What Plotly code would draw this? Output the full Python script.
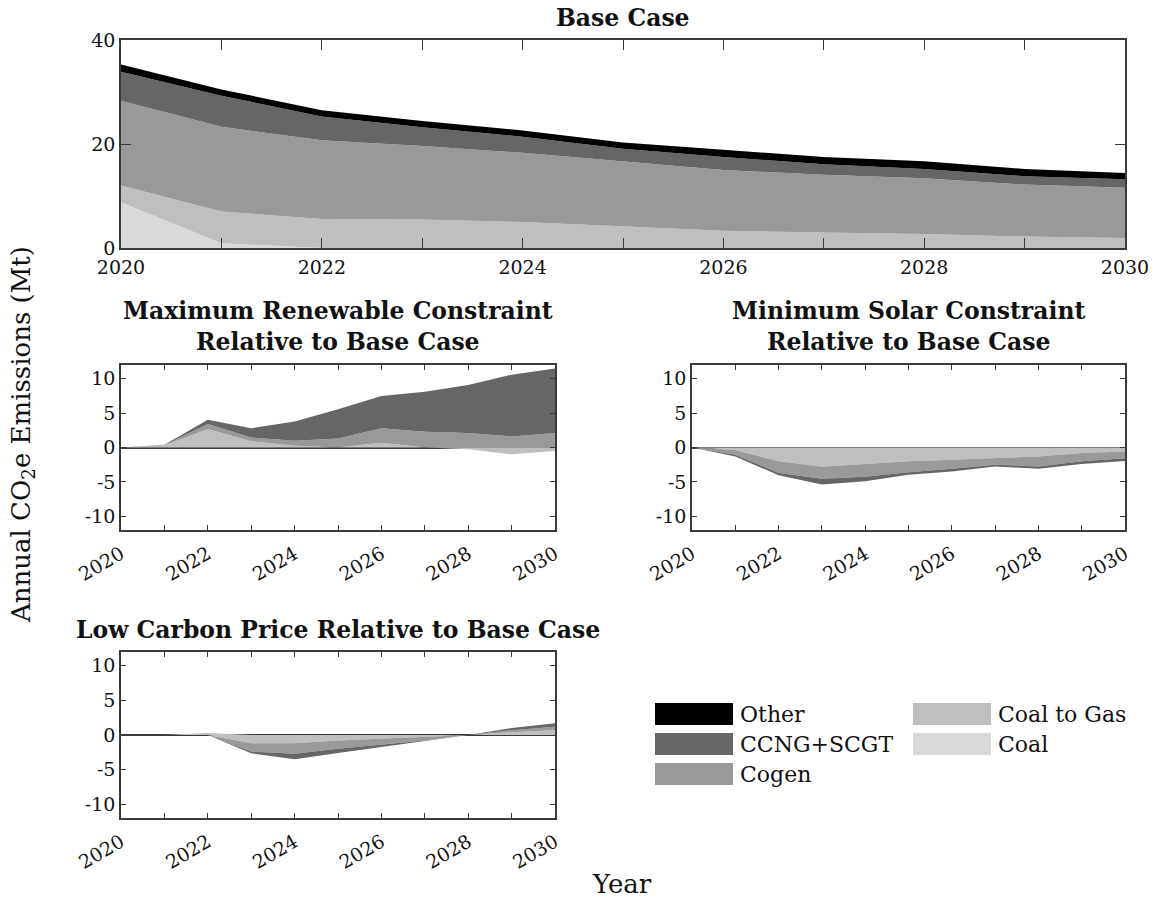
import plotly.graph_objects as go

# ---------------- data ----------------
years = [2020, 2021, 2022, 2023, 2024, 2025, 2026, 2027, 2028, 2029, 2030]
series_names = ["Coal", "Coal to Gas", "Cogen", "CCNG+SCGT", "Other"]
series_colors = ["#d9d9d9", "#bfbfbf", "#999999", "#666666", "#000000"]

# Base case (Mt CO2e)
base_coal = [8.8, 0.9, 0.0, 0, 0, 0, 0, 0, 0, 0, 0]
base_ctg = [3.2, 6.1, 5.6, 5.5, 5.0, 4.1, 3.3, 3.0, 2.7, 2.2, 1.9]
base_cogen = [16.3, 16.3, 15.1, 14.1, 13.3, 12.5, 11.7, 11.1, 10.7, 10.0, 9.7]
base_ccng = [5.6, 6.0, 4.6, 3.6, 3.1, 2.5, 2.5, 2.0, 1.8, 1.6, 1.6]
base_other = [1.4, 1.2, 1.2, 1.2, 1.2, 1.2, 1.4, 1.4, 1.5, 1.4, 1.2]

# Maximum renewable constraint, relative to base case
maxre_coal = [0, 0, 0, 0, 0, 0, 0, 0, 0, 0, 0]
maxre_ctg = [0, 0.3, 2.7, 0.9, 0.25, 0.0, 0.7, 0.0, -0.25, -1.0, -0.5]
maxre_cogen = [0, 0.08, 0.7, 0.55, 0.72, 1.3, 2.1, 2.3, 2.1, 1.6, 2.1]
maxre_ccng = [0, 0.02, 0.65, 1.35, 2.8, 4.25, 4.7, 5.8, 7.0, 9.0, 9.4]
maxre_other = [0, 0, 0, 0, 0, 0, 0, 0, 0, 0, 0]

# Minimum solar constraint, relative to base case
minsol_coal = [0, 0, 0, 0, 0, 0, 0, 0.1, 0.1, 0, 0]
minsol_ctg = [0, -0.35, -2.0, -2.8, -2.4, -2.0, -1.8, -1.55, -1.3, -0.8, -0.6]
minsol_cogen = [0, -0.7, -1.7, -1.75, -1.85, -1.6, -1.3, -0.95, -1.45, -1.2, -0.95]
minsol_ccng = [0, -0.25, -0.35, -0.85, -0.65, -0.35, -0.4, -0.25, -0.35, -0.4, -0.4]
minsol_other = [0, 0, 0, 0, 0, 0, 0, 0, 0, 0, 0]

# Low carbon price, relative to base case
lowc_coal = [0, 0, 0, 0, 0, 0, 0, 0, 0, 0, 0]
lowc_ctg = [0, 0, 0.3, -1.2, -1.2, -0.8, -0.5, -0.25, 0, 0.4, 0.7]
lowc_cogen = [0, 0, 0, -1.2, -1.5, -1.2, -0.95, -0.55, 0, 0.3, 0.5]
lowc_ccng = [0, 0, 0, -0.25, -0.8, -0.6, -0.25, -0.1, 0, 0.3, 0.5]
lowc_other = [0, 0, 0, 0, 0, 0, 0, 0, 0, 0, 0]

panels = [
    ("Base Case", [base_coal, base_ctg, base_cogen, base_ccng, base_other]),
    ("Maximum Renewable Constraint<br>Relative to Base Case",
     [maxre_coal, maxre_ctg, maxre_cogen, maxre_ccng, maxre_other]),
    ("Minimum Solar Constraint<br>Relative to Base Case",
     [minsol_coal, minsol_ctg, minsol_cogen, minsol_ccng, minsol_other]),
    ("Low Carbon Price Relative to Base Case",
     [lowc_coal, lowc_ctg, lowc_cogen, lowc_ccng, lowc_other]),
]

# ---------------- layout geometry (pixels) ----------------
W, H = 1158, 918
# (x0, x1, ytop, ybottom) plot boxes
boxes = [
    (121, 1125, 40, 248),
    (121, 555, 365, 530),
    (692, 1125, 365, 530),
    (121, 555, 652, 818),
]
title_pos = [(623, 18), (338, 326), (908, 326), (338, 630)]

FONT = "DejaVu Serif"
AXC = "#3a3a3a"
TXT = "#111111"

fig = go.Figure()

for i, (title, data) in enumerate(panels):
    sfx = "" if i == 0 else str(i + 1)
    for name, color, vals in zip(series_names, series_colors, data):
        if i == 0:
            groups = [("pos", vals)]
        else:
            groups = [("pos", [max(v, 0) for v in vals]),
                      ("neg", [min(v, 0) for v in vals])]
        for g, gv in groups:
            fig.add_trace(go.Scatter(
                x=years, y=gv, mode="lines", stackgroup=f"{g}{i}",
                line=dict(width=0, color=color), fillcolor=color,
                name=name, showlegend=False, hoverinfo="skip",
                xaxis="x" + sfx, yaxis="y" + sfx,
            ))

    x0, x1, yt, yb = boxes[i]
    tickvals = years
    ticktext = [str(y) if y % 2 == 0 else " " for y in years]
    xa = dict(
        domain=[x0 / W, x1 / W], anchor="y" + sfx, range=[2020, 2030],
        tickmode="array", tickvals=tickvals, ticktext=ticktext,
        ticks="inside", ticklen=10 if i == 0 else 5, tickwidth=1.3, tickcolor=AXC,
        showline=True, linecolor=AXC, linewidth=1.6, mirror="ticks",
        showgrid=False, zeroline=False, automargin=False,
        tickfont=dict(family=FONT, size=19, color=TXT),
        tickangle=0 if i == 0 else -30,
        ticklabelstandoff=1 if i == 0 else 4,
    )
    if i == 0:
        ya = dict(range=[0, 40], tickvals=[0, 20, 40], ticktext=["0", "20", "40"],
                  zeroline=False)
    else:
        ya = dict(range=[-12, 12], tickvals=[-10, -5, 0, 5, 10],
                  ticktext=["-10", "-5", "0", "5", "10"],
                  zeroline=True, zerolinecolor=AXC, zerolinewidth=1.5)
    ya.update(dict(
        domain=[1 - yb / H, 1 - yt / H], anchor="x" + sfx,
        ticks="inside", ticklen=10 if i == 0 else 5, tickwidth=1.3, tickcolor=AXC,
        showline=True, linecolor=AXC, linewidth=1.6, mirror="ticks",
        showgrid=False, automargin=False,
        tickfont=dict(family=FONT, size=19, color=TXT),
    ))
    fig.update_layout(**{"xaxis" + sfx: xa, "yaxis" + sfx: ya})

annotations = []
for (title, _), (tx, ty) in zip(panels, title_pos):
    lines = title.split("<br>")
    txt = "<br>".join(f"<b>{l}</b>" for l in lines)
    annotations.append(dict(
        text=txt, x=tx / W, y=1 - ty / H, xref="paper", yref="paper",
        xanchor="center", yanchor="middle", showarrow=False,
        font=dict(family=FONT, size=23.5, color=TXT),
    ))

# axis labels
annotations.append(dict(
    text="Annual CO<sub>2</sub>e Emissions (Mt)", x=22 / W, y=1 - 435 / H,
    xref="paper", yref="paper", textangle=-90, showarrow=False,
    xanchor="center", yanchor="middle",
    font=dict(family=FONT, size=26, color=TXT),
))
annotations.append(dict(
    text="Year", x=622 / W, y=1 - 884 / H, xref="paper", yref="paper",
    showarrow=False, xanchor="center", yanchor="middle",
    font=dict(family=FONT, size=26, color=TXT),
))

# legend (manual, two columns, top of stack first)
shapes = []
legend_order = list(reversed(list(zip(series_names, series_colors))))
lx0, ly0, col_pitch, row_pitch, sw, sh = 655, 703, 258, 30, 78, 22
for k, (name, color) in enumerate(legend_order):
    col, row = divmod(k, 3)
    sx = lx0 + col * col_pitch
    sy = ly0 + row * row_pitch
    shapes.append(dict(
        type="rect", xref="paper", yref="paper",
        x0=sx / W, x1=(sx + sw) / W, y0=1 - (sy + sh) / H, y1=1 - sy / H,
        fillcolor=color, line=dict(width=0),
    ))
    annotations.append(dict(
        text=name, x=(sx + sw + 5) / W, y=1 - (sy + sh / 2) / H,
        xref="paper", yref="paper", xanchor="left", yanchor="middle",
        showarrow=False, font=dict(family=FONT, size=22, color=TXT),
    ))

fig.update_layout(
    width=W, height=H, margin=dict(l=0, r=0, t=0, b=0, autoexpand=False),
    paper_bgcolor="white", plot_bgcolor="white",
    showlegend=False, annotations=annotations, shapes=shapes,
    font=dict(family=FONT, color=TXT),
)

fig.write_html("out.html")
